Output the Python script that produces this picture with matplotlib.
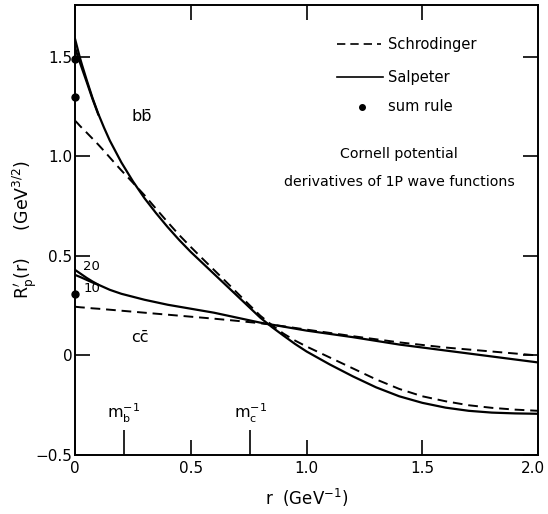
import numpy as np
import matplotlib
matplotlib.use("Agg")
import matplotlib.pyplot as plt
import matplotlib.transforms as mtransforms

# ---- data ----
r_bb = [0.0, 0.01, 0.02, 0.03, 0.05, 0.075, 0.1, 0.125, 0.15, 0.175, 0.2, 0.25, 0.3,
        0.35, 0.4, 0.45, 0.5, 0.55, 0.6, 0.65, 0.7, 0.75, 0.8, 0.85, 0.9, 0.95,
        1.0, 1.1, 1.2, 1.3, 1.4, 1.5, 1.6, 1.7, 1.8, 1.9, 2.0]
bb_salp_20 = [1.59, 1.545, 1.50, 1.46, 1.385, 1.295, 1.215, 1.145, 1.08, 1.025, 0.97,
              0.875, 0.79, 0.715, 0.645, 0.58, 0.52, 0.465, 0.41, 0.355, 0.30, 0.245,
              0.19, 0.143, 0.10, 0.058, 0.02, -0.045, -0.105, -0.16, -0.205, -0.238,
              -0.262, -0.278, -0.287, -0.291, -0.293]
r_bb10 = [0.0, 0.01, 0.02, 0.035, 0.05, 0.075, 0.1]
bb_salp_10 = [1.545, 1.51, 1.475, 1.425, 1.375, 1.29, 1.212]
bb_schr = [1.18, 1.168, 1.155, 1.143, 1.12, 1.09, 1.06, 1.028, 0.995, 0.962, 0.93,
           0.868, 0.805, 0.737, 0.67, 0.605, 0.545, 0.487, 0.43, 0.373, 0.315, 0.257,
           0.2, 0.153, 0.11, 0.075, 0.045, -0.01, -0.065, -0.12, -0.168, -0.205,
           -0.23, -0.25, -0.263, -0.272, -0.278]

r_cc = [0.0, 0.025, 0.05, 0.075, 0.1, 0.15, 0.2, 0.3, 0.4, 0.5, 0.6, 0.7, 0.8, 0.9,
        1.0, 1.2, 1.4, 1.6, 1.8, 2.0]
cc_salp_20 = [0.43, 0.41, 0.39, 0.372, 0.356, 0.33, 0.31, 0.28, 0.255, 0.235, 0.215,
              0.19, 0.165, 0.145, 0.125, 0.092, 0.055, 0.025, -0.005, -0.035]
r_cc10 = [0.0, 0.025, 0.05, 0.075, 0.1]
cc_salp_10 = [0.405, 0.393, 0.38, 0.367, 0.355]
cc_schr = [0.245, 0.242, 0.24, 0.237, 0.235, 0.23, 0.225, 0.215, 0.205, 0.195, 0.185,
           0.174, 0.162, 0.147, 0.13, 0.097, 0.066, 0.04, 0.02, 0.0]

sum_rule = [1.49, 1.30, 0.31]
mass_ticks = [0.21, 0.756]
mass_labels = [r"$\mathrm{m_b^{-1}}$", r"$\mathrm{m_c^{-1}}$"]

xticks = [0, 0.5, 1.0, 1.5, 2.0]
xticklabels = ["0", "0.5", "1.0", "1.5", "2.0"]
yticks = [-0.5, 0, 0.5, 1.0, 1.5]
yticklabels = ["\u22120.5", "0", "0.5", "1.0", "1.5"]

plt.rcParams['font.family'] = ['DejaVu Sans']
plt.rcParams['mathtext.fontset'] = 'dejavusans'

fig = plt.figure(figsize=(5.48, 5.14), dpi=100)
ax = fig.add_axes([0.137, 0.1148, 0.845, 0.875])

lw = 1.6
ax.plot(r_bb, bb_salp_20, 'k-', lw=lw)
ax.plot(r_bb10, bb_salp_10, 'k-', lw=lw)
ax.plot(r_bb, bb_schr, 'k--', lw=1.4, dashes=(5, 3))
ax.plot(r_cc, cc_salp_20, 'k-', lw=lw)
ax.plot(r_cc10, cc_salp_10, 'k-', lw=lw)
ax.plot(r_cc, cc_schr, 'k--', lw=1.4, dashes=(5, 3))
ax.plot([0] * len(sum_rule), sum_rule, 'ko', ms=5, clip_on=False, zorder=5)

ax.set_xlim(0, 2.0)
ax.set_ylim(-0.5, 1.76)

for s in ax.spines.values():
    s.set_linewidth(1.4)

ax.set_xticks(xticks)
ax.set_xticklabels(xticklabels)
ax.set_yticks(yticks)
ax.set_yticklabels(yticklabels)
ax.tick_params(direction='in', length=11, width=1.2, top=True, right=True,
               labelsize=11, pad=4)
ax.tick_params(axis='y', pad=2)
# keep the last x tick label inside the figure
last = ax.get_xticklabels()[-1]
last.set_transform(last.get_transform() +
                   mtransforms.ScaledTranslation(-0.05, 0, fig.dpi_scale_trans))

# mass markers
for m, lab in zip(mass_ticks, mass_labels):
    ax.vlines(m, -0.5, -0.375, colors='k', lw=1.2)
    ax.text(m, -0.29, lab, ha='center', va='center', fontsize=11.5)

# curve labels
ax.text(0.29, 1.20, "bb\u0304", fontsize=11.5, ha='center', va='center')
ax.text(0.28, 0.09, "cc\u0304", fontsize=11.5, ha='center', va='center')
ax.text(0.035, 0.445, "20", fontsize=9.5, ha='left', va='center')
ax.text(0.035, 0.335, "10", fontsize=9.5, ha='left', va='center')

# legend (drawn manually)
ax.plot([1.13, 1.32], [1.563, 1.563], 'k--', lw=1.2, dashes=(5, 3))
ax.text(1.35, 1.563, "Schrodinger", fontsize=10.5, va='center')
ax.plot([1.13, 1.33], [1.397, 1.397], 'k-', lw=1.2)
ax.text(1.35, 1.397, "Salpeter", fontsize=10.5, va='center')
ax.plot([1.24], [1.25], 'ko', ms=4)
ax.text(1.35, 1.25, "sum rule", fontsize=10.5, va='center')
ax.text(1.40, 1.01, "Cornell potential", fontsize=10.2, ha='center', va='center')
ax.text(1.40, 0.87, "derivatives of 1P wave functions", fontsize=10.2,
        ha='center', va='center')

ax.set_xlabel(r"r  (GeV$^{-1}$)", fontsize=12, labelpad=8)
ax.set_ylabel(r"$\mathrm{R_p'(r)}$     (GeV$^{3/2}$)", fontsize=12.5)
ax.yaxis.set_label_coords(-0.078, 0.5)

fig.savefig("out.png", dpi=100)
